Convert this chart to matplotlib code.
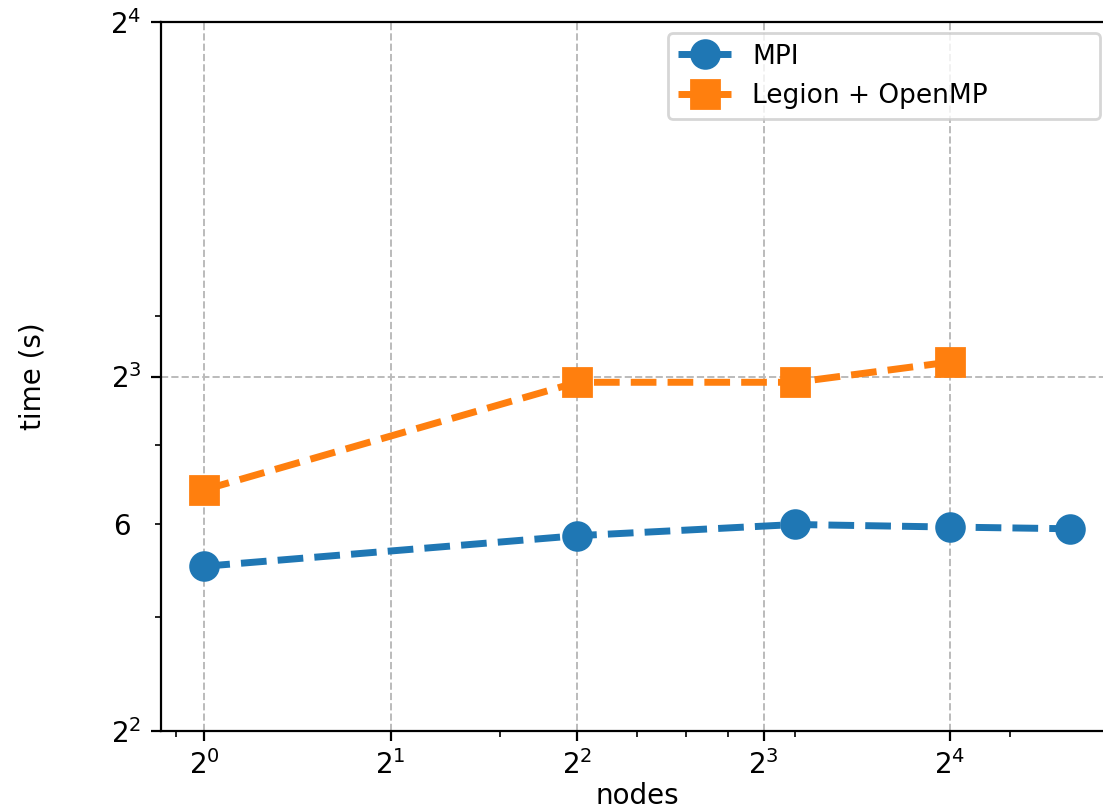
"""
Strong scaling: MPI vs Legion + OpenMP, log-log
"""

import matplotlib
matplotlib.use('Agg')
import matplotlib.pyplot as plt
from matplotlib.ticker import LogFormatter

# data
nodes_mpi = [1, 4, 9, 16, 25]
time_mpi = [5.52, 5.86, 5.99, 5.96, 5.94]

nodes_legion = [1, 4, 9, 16]
time_legion = [6.41, 7.91, 7.91, 8.23]

x_major = [1, 2, 4, 8, 16]
x_major_labels = [r'$2^{0}$', r'$2^{1}$', r'$2^{2}$', r'$2^{3}$', r'$2^{4}$']
y_major = [4, 8, 16]
y_major_labels = [r'$2^{2}$', r'$2^{3}$', r'$2^{4}$']

fig = plt.figure(figsize=(1103 / 200., 811 / 200.), dpi=200)
# axes runs a bit past the right edge, like the cropped original
ax = fig.add_axes([161 / 1103., 80 / 811., 952.4 / 1103., 709 / 811.])

ax.plot(nodes_mpi, time_mpi, 'o--', color='tab:blue', lw=2.5, markersize=10, label='MPI')
ax.plot(nodes_legion, time_legion, 's--', color='tab:orange', lw=2.5, markersize=10,
        label='Legion + OpenMP')

ax.set_xscale('log')
ax.set_yscale('log')
ax.set_ylim(4, 16)

ax.set_xticks(x_major, x_major_labels)
ax.set_yticks(y_major, y_major_labels)
ax.yaxis.set_minor_formatter(LogFormatter(labelOnlyBase=False))
ax.xaxis.set_minor_formatter(LogFormatter(labelOnlyBase=True))
ax.tick_params(axis='y', which='minor', pad=9)

ax.grid(True, which='major', linestyle='--', color='#bbbbbb', linewidth=0.7)

ax.set_xlabel('nodes', labelpad=0.5)
ax.set_ylabel('time (s)', labelpad=23)

# legend box stretched to the width seen in the reference
ax.legend(loc='upper right', fontsize=9.5, mode='expand', borderaxespad=0,
          bbox_to_anchor=(0.532, 0.70, 0.454, 0.2845))

plt.savefig('out.png', dpi=200)
